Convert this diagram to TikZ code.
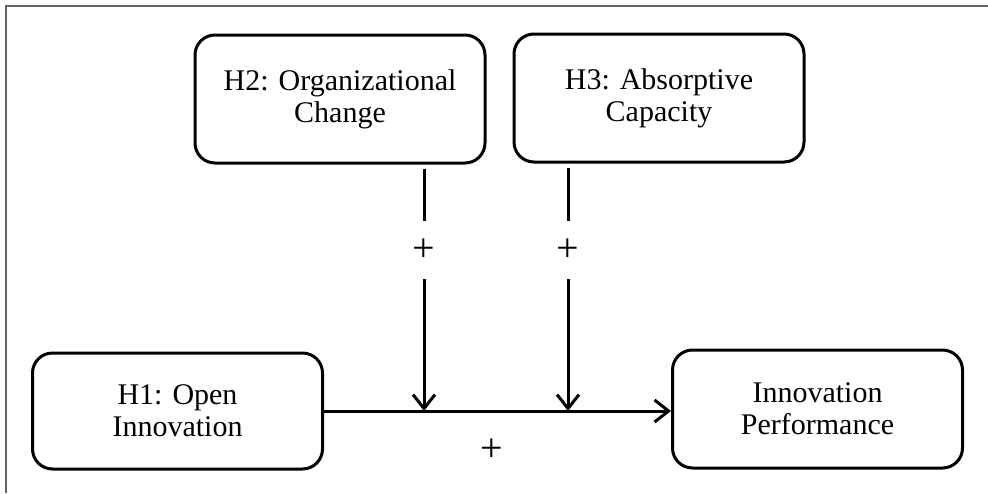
\documentclass[tikz,border=0pt]{standalone}
\usepackage{fontspec}
\setmainfont{Liberation Serif}
\usetikzlibrary{arrows.meta}
\definecolor{framegray}{RGB}{100,100,100}

\begin{document}
\begin{tikzpicture}[
        x=1pt, y=-1pt,
        font=\fontsize{30}{32}\selectfont,
        box/.style={draw, line width=3pt, rounded corners=20pt, align=center, minimum width=290pt, minimum height=128pt, inner sep=0pt}, % Стиль блоков
        link/.style={draw, line width=3pt, -{Straight Barb[length=14pt,width=22pt,line width=3pt]}},
        sign/.style={inner sep=0pt, minimum height=58pt, font=\fontsize{40}{40}\selectfont},
    ]
    \useasboundingbox (0,0) rectangle (988,493);
    \draw[framegray, line width=2pt] (6,493) -- (6,6) -- (988,6);

    \node[box] (orgchange) at (340,99) {H2: Organizational\\Change};
    \node[box] (absorb) at (659,98) {H3: Absorptive\\Capacity};
    \node[box, minimum height=116pt] (openinn) at (177.5,411) {H1: Open\\Innovation};
    \node[box, minimum height=118pt] (perf) at (817.5,409) {Innovation\\Performance};

    % точки на главной стрелке
    \coordinate (m1) at (424,411);
    \coordinate (m2) at (568,411);

    \node[sign] (p1) at (424,250) {+};
    \node[sign] (p2) at (568,250) {+};
    \node[sign] (p0) at (492,450) {+};

    \draw[link] (openinn.east) -- (openinn.east -| perf.west);
    \draw[line width=3pt, shorten <=4pt] (orgchange.south -| m1) -- (p1);
    \draw[line width=3pt, shorten <=4pt] (absorb.south -| m2) -- (p2);
    \draw[link] (p1) -- (m1);
    \draw[link] (p2) -- (m2);
\end{tikzpicture}
\end{document}
